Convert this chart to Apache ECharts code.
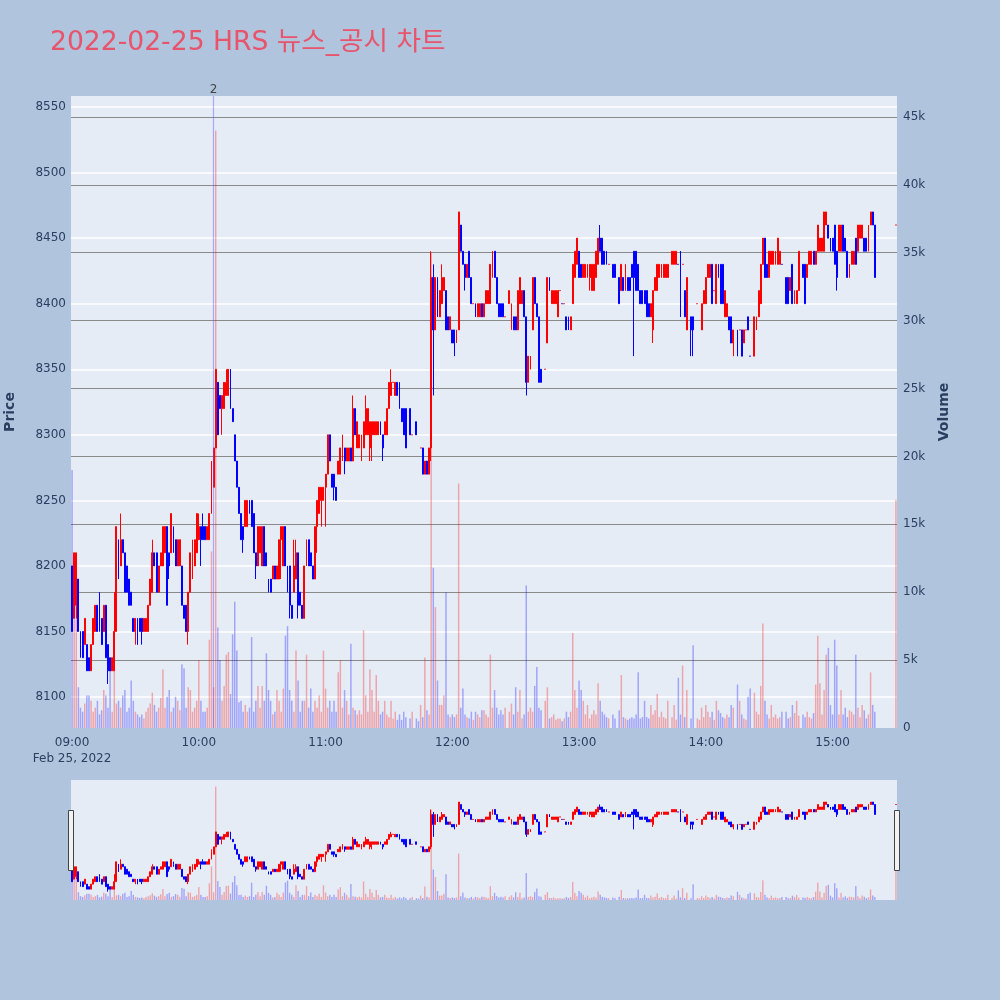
<!DOCTYPE html>
<html><head><meta charset="utf-8">
<script src="https://cdn.jsdelivr.net/npm/echarts@6/dist/echarts.min.js"></script>
<style>html,body{margin:0;padding:0;background:#b0c4de}#c{width:1000px;height:1000px}</style>
</head><body><div id="c"></div>
<script>
const titleText = '2022-02-25 HRS 뉴스_공시 차트';
const dateLabel = 'Feb 25, 2022';
const priceAxisName = 'Price';
const volumeAxisName = 'Volume';
const newsMarks = [{time: '10:07', label: '2'}];

// one entry per minute 09:00 .. 15:30 : [open, close, (low, high)] ; null = no trade
const candles = [
[8200,8150],[8160,8210],[8170,8210,8160,8210],[8190,8150],[8150,8140,8130,8150],[8150,8130],[8140,8160],[8140,8120],[8130,8120],[8120,8140],
[8140,8160],[8150,8170],[8170,8150],[8170,8150,8150,8180],[8160,8140],[8150,8170],[8170,8130],[8140,8120,8110,8140],[8130,8120],[8120,8130],
[8120,8150,8120,8180],[8150,8230],[8220,8190],[8200,8220,8200,8240],[8220,8210],[8210,8180],[8200,8180],[8190,8170],[8180,8170],[8160,8150],
[8150,8160,8140,8160],[8160,8140],[8160,8150],[8160,8150,8140,8160],[8150,8160],[8150,8160],[8150,8170],[8170,8190],[8180,8210,8180,8220],[8210,8200],
[8210,8180],[8180,8200],[8200,8210],[8200,8230],[8210,8230],[8230,8170],[8210,8200,8190,8210],[8210,8240],[8230,8220,8210,8230],[8220,8200],
[8200,8220],[8200,8220],[8200,8170],[8170,8160],[8170,8150],[8150,8180,8140,8180],[8180,8210],[8190,8210,8190,8220],[8200,8220],[8210,8240],
[8220,8230,8220,8240],[8230,8220,8200,8230],[8230,8220,8220,8240],[8230,8220],[8220,8230],[8220,8240],[8240,8270,8240,8280],[8260,8290],[8290,8350],[8340,8300],
[8330,8320],[8320,8330,8300,8330],[8320,8340],[8330,8340,8330,8350],[8330,8350],[8350,8320],[8320,8310],[8300,8280],[8280,8260],[8260,8240],
[8240,8220],[8230,8220,8210,8230],[8230,8250],[8230,8250],[8250,8240],[8250,8230],[8240,8210],[8210,8200,8190,8210],[8200,8230],[8210,8230],
[8200,8230],[8230,8200],[8210,8200],[8190,8180],[8190,8180],[8190,8200],[8200,8190],[8190,8200],[8190,8220],[8220,8230,8190,8230],
[8200,8230],[8230,8200],[8200,8180],[8200,8170,8160,8200],[8170,8160],[8180,8200,8180,8220],[8190,8210,8190,8220],[8210,8170,8160,8210],[8180,8170],[8170,8160],
[8160,8200],[8200,8220],[8220,8200],[8210,8200],[8200,8190],[8190,8230],[8230,8250,8210,8250],[8240,8260],[8250,8260,8230,8260],[8250,8260],
[8260,8270,8230,8270],[8270,8300],[8300,8280],[8270,8260],[8270,8260,8250,8270],[8260,8250],[8270,8280],[8270,8290],[8280,8300],[8290,8280,8270,8290],
[8280,8290],[8280,8290],[8290,8280],[8280,8320,8280,8330],[8320,8300],[8290,8310],[8290,8300],[8290,8300,8280,8300],[8290,8310],[8300,8320,8300,8330],
[8300,8320],[8290,8310,8280,8310],[8300,8310,8280,8310],[8300,8310],[8300,8310],[8300,8310],[8310,8300],[8300,8290,8280,8300],[8300,8310],[8300,8320],
[8320,8340],[8330,8340,8330,8350],[8340,8340],[8330,8340],[8340,8330],[8340,8320],[8320,8310],[8320,8300],[8320,8290],null,
[8320,8300],[8300,8300],null,[8310,8300],[8290,8290],[8290,8290],[8290,8270],[8270,8280],[8280,8270],[8270,8290],
[8290,8420,8280,8440],[8420,8380,8330,8430],[8380,8420],[8420,8390],[8390,8410],[8400,8420,8400,8430],[8410,8420],[8410,8380],[8390,8380],[8380,8390],
[8380,8370],[8380,8370,8360,8380],[8370,8380],[8380,8470],[8460,8440],[8440,8430],[8430,8420,8410,8430],[8420,8430],[8440,8420],[8420,8400],
[8400,8400],[8400,8390],[8390,8400],[8390,8400],[8400,8390],[8390,8400],[8400,8410],[8400,8410],[8400,8430],[8420,8440],
[8440,8420],[8420,8400],[8400,8390],[8400,8390],[8400,8390],[8390,8390],null,[8400,8410],[8390,8400,8380,8400],[8390,8380],
[8390,8380],[8380,8410],[8400,8420],[8400,8410],[8410,8390],[8390,8340,8330,8390],[8340,8360],[8350,8360],[8380,8420],[8420,8400],
[8400,8390],[8390,8340],[8350,8340],null,[8350,8350],[8370,8420],[8420,8410],[8400,8410],[8400,8410],[8400,8410],
[8390,8410],[8410,8410],[8400,8400],[8400,8400],[8390,8380],[8390,8380],[8380,8390],[8400,8430],[8420,8440],[8430,8450],
[8440,8420],[8430,8420],[8420,8430],[8420,8430],[8420,8430],[8420,8430,8410,8430],[8410,8430],[8410,8430],[8420,8440],[8430,8450],
[8450,8440,8440,8460],[8450,8430],[8440,8430],[8440,8430],[8430,8430],null,[8430,8420],[8430,8420],null,[8420,8400],
[8410,8430],[8420,8410],[8410,8430],[8420,8410],[8420,8410],[8430,8420],[8440,8420,8360,8440],[8440,8410],[8430,8410],[8410,8400],
[8410,8400],[8410,8400],[8410,8390],[8400,8390],[8390,8400],[8380,8410,8370,8410],[8410,8420],[8410,8430],[8420,8430],[8420,8430],
[8420,8430],[8420,8430],[8420,8430],null,[8430,8440],[8430,8440],[8430,8440],[8430,8430],[8440,8390],[8430,8430],
[8410,8390],[8380,8420],null,[8390,8380,8360,8390],[8390,8380,8360,8390],null,[8400,8400],[8400,8400],[8380,8400],[8400,8410],
[8400,8420],[8420,8430],[8420,8430],[8430,8400],[8410,8410],[8400,8430],[8430,8420],[8430,8400],[8430,8400],[8390,8410],
[8390,8400],[8390,8380],[8390,8370],[8370,8380,8360,8380],null,[8380,8360],[8380,8380],[8380,8360],[8370,8380],[8380,8380],
[8390,8380],[8360,8360],null,[8360,8390],[8380,8390],[8390,8410],[8400,8430],[8430,8450],[8450,8420],[8430,8420],
[8420,8440],[8430,8440],[8430,8440],[8430,8440],[8430,8450],[8430,8440],[8430,8430],null,[8420,8400],[8420,8400],
[8410,8420],[8430,8400],[8400,8410],[8400,8410],[8410,8440],null,[8430,8420],[8430,8400],[8420,8430],[8430,8440],
[8430,8440],[8440,8430],[8430,8440],[8440,8460],[8440,8450],[8440,8450],[8440,8470],[8460,8470],[8460,8450],[8450,8440],
[8450,8440],[8460,8430],[8440,8420,8410,8440],[8440,8460],[8440,8460],[8460,8440],[8450,8440],[8440,8420],[8420,8430],[8430,8440],
[8430,8440],[8450,8430],[8440,8460],[8450,8460],[8450,8460],[8450,8440],[8450,8440],[8440,8460],[8460,8470],[8470,8460],
[8460,8420],null,null,null,null,null,null,null,null,null,[8460,8460]
];

// volume per minute, in thousands of shares
const volumeK = [
19,8,12.5,3,1.5,1.2,1.8,2.4,2.4,2, 1.2,1.5,2,1,1.3,2.8,2.4,1.5,4.4,1.2,
4.4,1.8,2,1.5,2.4,2.8,1.2,1.5,3.5,2, 1.2,1,0.8,1,0.7,1.2,1.5,1.8,2.6,1.7,
1.2,1.5,2.2,4.3,1.5,2.3,2.8,1.2,1.5,2.3, 2,1.3,4.7,4.4,1.5,3,2.8,1.2,1.5,2,
5,2,1.2,1.2,1.5,6.5,13,3,44,7.4, 5,2,3.1,5.4,5.6,2.5,6.9,9.3,5.7,1.9,
2,1.2,1.7,1.2,1.5,6.7,1.2,2,3.1,1.5, 3.1,2,5.5,2.8,2,1,1.2,2.8,2,1.2,
2.9,6.8,7.5,2.8,2,1.2,5.7,3.5,1.2,2, 2,5.4,1.5,2.9,1.2,2,1.5,2.4,1.2,5.7,
2.9,1.5,2,1.2,2,1.2,4.1,5,1.5,2.8, 2,1,6.2,1.5,1.3,1,1.3,1,7.2,2.4,
1.2,4.3,2.8,1.2,3.9,2,1,1.2,2,1, 0.8,2,0.7,1.2,0.6,1,0.6,1.2,0.8,0,
0.7,1.2,0,0.7,0.5,1.7,0.8,5.2,1.3,1, 35,11.8,8.9,3.5,1.7,1.7,2.4,10,1,0.8,
1,0.8,1,18,1.5,2.9,1,0.8,0.7,1.2, 0.6,1.2,1,0.8,1.3,1.3,1,0.8,5.4,1.5,
2.8,1.5,1,1.3,1,1.5,0,1.2,1.8,1, 3,1.2,2.8,0.7,1,10.5,1.2,1.5,1.2,3.1,
4.5,1.5,1.3,0,2,3,0.7,0.8,1,0.6, 0.7,0.7,0.5,0.7,1.2,0.8,1.2,7,2.8,1.5,
3.5,2.8,2,1,1.7,0.7,1,1.3,1,3.3, 2,1.2,1,0.8,0.7,0,1,0.7,0,1.3,
3.9,0.8,0.7,0.6,0.7,0.8,0.7,1,4.1,0.7, 0.8,2,0.8,0.7,1.7,1,1.3,2.5,0.8,1.2,
0.8,0.7,2,0,0.8,1.7,0.6,3.7,1,4.6, 0.8,2.8,0,0.7,6.1,0,0.7,0.6,1.5,0.8,
1.7,1.2,0.8,1.2,0.6,2,1.3,1.1,0.8,0.7, 1,0.8,1.7,1.5,0,3.2,2,1,0.7,0.6,
2.3,2.9,0,2.6,1.2,1,3.1,7.7,2,1, 0.7,1.7,0.8,1,0.7,0.8,1.2,0,1.2,0.7,
0.8,1.7,1.1,2,0.9,0,1,0.8,1.2,0.8, 0.7,1.1,3.2,6.8,3.3,1,2.8,5.4,5.9,1.7,
1,6.5,4.6,1,2.8,1,1.5,0.8,1.3,1.2, 1,5.4,1.5,0.8,1.7,1.3,0.7,1,4.1,1.7,
1.2,0,0,0,0,0,0,0,0,0,16.8
];

const times = [];
for (let i = 0; i < candles.length; i++) {
  const h = 9 + Math.floor(i / 60), m = i % 60;
  times.push(String(h).padStart(2, '0') + ':' + String(m).padStart(2, '0'));
}

const UP = '#ff0000', DOWN = '#0000ff';
const UPV = 'rgba(255,0,0,0.3)', DOWNV = 'rgba(0,0,255,0.3)';
const bg = '#e5ecf6';
const fontFam = "'DejaVu Sans','Noto Sans CJK KR',sans-serif";

function isUp(i) {
  const c = candles[i];
  if (!c) return true;
  if (c[1] !== c[0]) return c[1] > c[0];
  for (let j = i - 1; j >= 0; j--) if (candles[j]) return c[1] >= candles[j][1];
  return true;
}
const ohlc = candles.map((c, i) => {
  if (!c) return {value: ['-','-','-','-']};
  const col = isUp(i) ? UP : DOWN;
  return {value: [c[0], c[1], c.length > 2 ? c[2] : Math.min(c[0], c[1]), c.length > 3 ? c[3] : Math.max(c[0], c[1])],
          itemStyle: {color: col, color0: col, borderColor: col, borderColor0: col, borderColorDoji: col}};
});
const volData = volumeK.map((v, i) => v > 0 ? {value: v * 1000, itemStyle: {color: isUp(i) ? UPV : DOWNV}} : '-');

const pMin = 8076.4, pMax = 8558.4, vMax = 46540;
const L = 71, R = 103;

const candleStyle = {color: UP, color0: DOWN, borderColor: UP, borderColor0: DOWN, borderColorDoji: UP, borderWidth: 1};

const chart = echarts.init(document.getElementById('c'), null, {renderer: 'canvas'});
chart.setOption({
  backgroundColor: '#b0c4de',
  animation: false,
  textStyle: {fontFamily: fontFam},
  title: {text: titleText, left: 45, top: 25, textStyle: {color: '#e8546b', fontSize: 26.6, fontWeight: 'normal', fontFamily: fontFam}},
  grid: [
    {left: L, right: R, top: 96, bottom: 272, show: true, backgroundColor: bg, borderWidth: 0, outerBoundsMode: 'none', containLabel: false},
    {left: L, right: R, top: 780, height: 120, show: true, backgroundColor: bg, borderWidth: 0, outerBoundsMode: 'none', containLabel: false}
  ],
  xAxis: [
    {type: 'category', gridIndex: 0, data: times, boundaryGap: true,
     axisLine: {show: false}, axisTick: {show: false}, splitLine: {show: false},
     axisLabel: {color: '#2a3f5f', fontSize: 12, lineHeight: 16, margin: 7, fontFamily: fontFam,
       interval: (idx) => idx % 60 === 0,
       formatter: (v, idx) => idx === 0 ? v + '\n' + dateLabel : v}},
    {type: 'category', gridIndex: 1, data: times, boundaryGap: true, show: false}
  ],
  yAxis: [
    {type: 'value', gridIndex: 0, position: 'left', min: pMin, max: pMax, splitNumber: 10, scale: true,
     name: priceAxisName, nameLocation: 'middle', nameGap: 54, nameRotate: 90,
     nameTextStyle: {color: '#2a3f5f', fontSize: 14, fontWeight: 'bold', fontFamily: fontFam},
     axisLine: {show: false}, axisTick: {show: false},
     axisLabel: {color: '#2a3f5f', fontSize: 12, showMinLabel: false, showMaxLabel: false, margin: 5, fontFamily: fontFam,
       formatter: v => String(Math.round(v))},
     splitLine: {show: true, showMinLine: false, showMaxLine: false, lineStyle: {color: '#ffffff', width: 1.5}}},
    {type: 'value', gridIndex: 0, position: 'right', min: 0, max: vMax, splitNumber: 9,
     name: volumeAxisName, nameLocation: 'middle', nameGap: 40, nameRotate: 90,
     nameTextStyle: {color: '#2a3f5f', fontSize: 14, fontWeight: 'bold', fontFamily: fontFam},
     axisLine: {show: false}, axisTick: {show: false},
     axisLabel: {color: '#2a3f5f', fontSize: 12, showMaxLabel: false, margin: 6, fontFamily: fontFam,
       formatter: v => v === 0 ? '0' : (v / 1000) + 'k'},
     splitLine: {show: true, showMinLine: false, showMaxLine: false, lineStyle: {color: '#8a8a8a', width: 1}}},
    {type: 'value', gridIndex: 1, min: pMin, max: pMax, show: false, splitLine: {show: false}},
    {type: 'value', gridIndex: 1, min: 0, max: vMax, show: false, splitLine: {show: false}}
  ],
  series: [
    {type: 'bar', xAxisIndex: 0, yAxisIndex: 1, data: volData, barWidth: 1.5, z: 1,
     markLine: {silent: true, symbol: ['none', 'none'], animation: false,
       lineStyle: {color: 'rgba(90,90,255,0.45)', width: 1.2, type: 'solid'},
       label: {show: true, position: 'end', formatter: p => p.name, color: '#444', fontSize: 12, distance: 0, fontFamily: fontFam},
       data: newsMarks.map(n => ({xAxis: n.time, name: n.label}))}},
    {type: 'candlestick', xAxisIndex: 0, yAxisIndex: 0, data: ohlc, barWidth: 1.4, z: 2, itemStyle: candleStyle},
    {type: 'bar', xAxisIndex: 1, yAxisIndex: 3, data: volData, barWidth: 1.4, z: 1},
    {type: 'candlestick', xAxisIndex: 1, yAxisIndex: 2, data: ohlc, barWidth: 1.4, z: 2, itemStyle: candleStyle}
  ],
  graphic: [
    {type: 'rect', shape: {x: 68.5, y: 810.5, width: 5, height: 60}, style: {fill: '#f2f2f2', stroke: '#444', lineWidth: 1}, z: 100},
    {type: 'rect', shape: {x: 894.5, y: 810.5, width: 5, height: 60}, style: {fill: '#f2f2f2', stroke: '#444', lineWidth: 1}, z: 100}
  ]
});
</script>
</body></html>
